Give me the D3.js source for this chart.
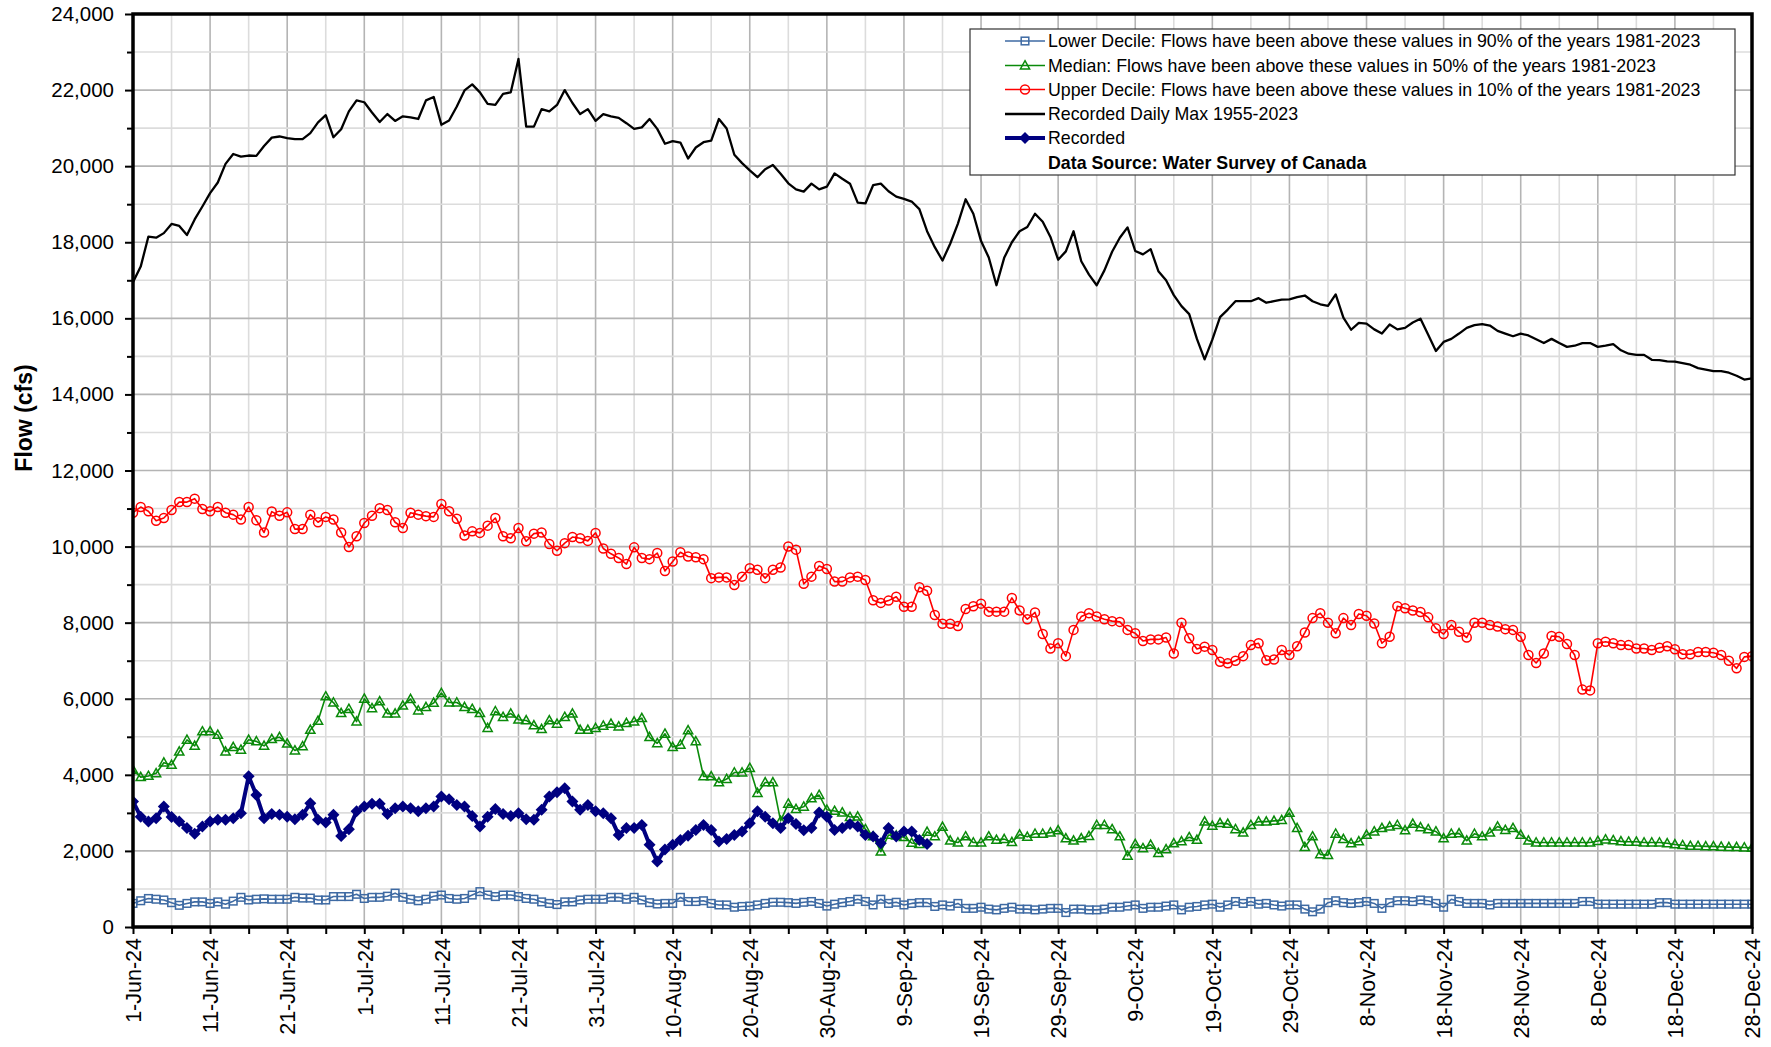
<!DOCTYPE html>
<html>
<head>
<meta charset="utf-8">
<script src="https://cdn.jsdelivr.net/npm/d3@7"></script>
<style>
  html, body { margin: 0; padding: 0; background: #fff; }
  svg { display: block; }
  text { font-family: Arial, "Liberation Sans", sans-serif; }
</style>
</head>
<body>
<svg id="chart" width="1771" height="1047"></svg>
<script>
// ---------------- DATA ----------------
const startDay = "2024-06-01";
const endDay = "2024-12-28";

const xTickLabels = ["1-Jun-24","11-Jun-24","21-Jun-24","1-Jul-24","11-Jul-24","21-Jul-24","31-Jul-24",
  "10-Aug-24","20-Aug-24","30-Aug-24","9-Sep-24","19-Sep-24","29-Sep-24","9-Oct-24","19-Oct-24",
  "29-Oct-24","8-Nov-24","18-Nov-24","28-Nov-24","8-Dec-24","18-Dec-24","28-Dec-24"];

const yTickValues = [0,2000,4000,6000,8000,10000,12000,14000,16000,18000,20000,22000,24000];

const legendLabels = [
  "Lower Decile: Flows have been above these values in 90% of the years 1981-2023",
  "Median: Flows have been above these values in 50% of the years 1981-2023",
  "Upper Decile: Flows have been above these values in 10% of the years 1981-2023",
  "Recorded Daily Max 1955-2023",
  "Recorded"
];
const sourceNote = "Data Source: Water Survey of Canada";
const yTitle = "Flow (cfs)";

// Lower decile (daily, 1-Jun .. 28-Dec)
const lowerDecile = [
  620,690,750,730,710,640,570,620,660,660, 620,660,600,680,780,710,730,740,730,730,
  730,780,760,760,710,710,800,800,800,860, 750,780,780,810,890,780,730,690,730,810,
  840,750,730,750,840,930,840,800,840,840, 800,750,730,660,620,590,660,660,710,730,
  730,730,780,780,730,780,710,640,605,620, 620,780,670,670,690,620,580,580,520,540,
  550,580,620,650,650,640,620,650,670,620, 550,600,640,670,730,670,580,730,620,650,
  580,620,640,640,540,580,550,620,490,490, 520,470,450,490,520,470,470,450,470,490,
  490,380,470,470,450,450,470,520,520,550, 580,490,520,520,550,580,450,520,540,580,
  600,520,580,670,620,670,600,620,580,550, 580,580,470,400,470,640,690,640,620,640,
  670,620,490,640,690,690,670,710,690,620, 520,730,670,620,620,620,580,620,620,620,
  620,620,620,620,620,620,620,620,670,670, 600,600,600,600,600,600,600,600,640,640,
  600,600,600,600,600,600,600,600,600,600, 600
];

// Median
const median = [
  4130,3940,3970,4040,4320,4260,4610,4920,4760,5140, 5140,5050,4610,4730,4660,4920,4880,4760,4940,4990,
  4820,4640,4750,5180,5420,6060,5900,5620,5730,5400, 6000,5750,5930,5610,5610,5820,5990,5690,5780,5890,
  6150,5900,5900,5780,5730,5620,5230,5670,5520,5610, 5450,5430,5300,5200,5430,5340,5520,5610,5180,5180,
  5230,5290,5340,5270,5360,5400,5490,4990,4830,5080, 4730,4790,5170,4880,3960,3960,3800,3890,4060,4060,
  4180,3520,3800,3800,2790,3240,3100,3160,3380,3470, 3080,3050,3010,2890,2900,2570,2380,1980,2420,2400,
  2360,2210,2180,2500,2380,2630,2270,2220,2380,2220, 2220,2380,2290,2310,2230,2430,2370,2450,2450,2480,
  2540,2330,2270,2330,2390,2680,2680,2570,2380,1870, 2180,2070,2160,1940,2040,2200,2250,2360,2290,2770,
  2660,2730,2710,2570,2480,2680,2770,2770,2790,2810, 3000,2600,2100,2380,1910,1890,2450,2310,2200,2250,
  2420,2510,2600,2640,2680,2540,2710,2620,2570,2510, 2330,2450,2460,2270,2450,2380,2480,2640,2550,2600,
  2420,2270,2220,2220,2220,2220,2220,2220,2220,2220, 2260,2300,2280,2250,2240,2240,2220,2220,2220,2200,
  2170,2150,2130,2130,2120,2120,2110,2100,2100,2090, 2080
];

// Upper decile
const upperDecile = [
  10890,11040,10930,10680,10750,10960,11170,11170,11260,10990, 10930,11040,10890,10840,10710,11040,10690,10370,10920,10810,
  10900,10460,10460,10840,10640,10780,10710,10370,9990,10270, 10620,10810,11010,10960,10640,10490,10890,10840,10800,10780,
  11120,10930,10730,10290,10400,10360,10550,10750,10270,10220, 10490,10140,10340,10370,10070,9890,10090,10250,10220,10150,
  10360,9950,9810,9700,9540,9980,9700,9670,9830,9360, 9610,9850,9740,9720,9670,9170,9190,9190,8990,9210,
  9430,9390,9170,9390,9450,10000,9920,9020,9210,9490, 9410,9080,9080,9190,9210,9120,8590,8520,8580,8680,
  8420,8420,8930,8840,8200,7970,7970,7910,8360,8430, 8500,8290,8290,8290,8650,8320,8090,8270,7700,7320,
  7460,7120,7810,8160,8250,8160,8090,8040,8020,7810, 7720,7520,7560,7560,7610,7190,8000,7590,7310,7370,
  7280,6970,6930,7000,7120,7410,7460,7010,7030,7280, 7150,7380,7740,8120,8250,8000,7720,8120,7940,8230,
  8180,7980,7460,7630,8430,8380,8320,8280,8140,7850, 7700,7940,7760,7610,8000,8000,7940,7900,7830,7810,
  7630,7150,6940,7190,7650,7630,7440,7150,6240,6220, 7460,7500,7460,7410,7410,7320,7320,7280,7340,7380,
  7300,7170,7170,7230,7230,7210,7150,7000,6800,7100, 7120
];

// Recorded daily max 1955-2023
const dailyMax = [
  16950,17360,18150,18120,18240,18480,18430,18190,18600,18940, 19290,19570,20060,20320,20250,20280,20270,20530,20750,20780,
  20740,20710,20710,20870,21150,21340,20760,20970,21440,21730, 21680,21410,21160,21370,21190,21310,21280,21240,21730,21820,
  21090,21200,21570,21990,22150,21940,21640,21610,21900,21940, 22820,21040,21040,21500,21440,21610,22000,21660,21370,21500,
  21190,21370,21310,21270,21130,20980,21020,21240,20980,20590, 20660,20620,20200,20490,20630,20670,21240,20990,20300,20080,
  19890,19710,19920,20030,19800,19550,19390,19330,19540,19390, 19460,19810,19670,19540,19040,19020,19500,19540,19340,19200,
  19140,19070,18870,18290,17870,17520,17960,18490,19130,18750, 18030,17600,16870,17590,18000,18290,18400,18750,18540,18140,
  17540,17760,18290,17500,17150,16870,17260,17750,18120,18390, 17770,17680,17820,17240,17000,16610,16320,16110,15460,14920,
  15440,16030,16230,16450,16450,16450,16530,16410,16450,16490, 16500,16560,16600,16450,16370,16330,16630,16020,15700,15880,
  15860,15710,15600,15840,15710,15750,15890,15990,15570,15140, 15380,15460,15600,15750,15820,15850,15810,15670,15600,15530,
  15600,15550,15450,15350,15460,15350,15250,15280,15350,15350, 15250,15280,15320,15160,15070,15040,15040,14910,14900,14870,
  14860,14820,14780,14690,14650,14610,14610,14570,14490,14390, 14420
];

// Recorded 2024 (1-Jun .. 13-Sep)
const recorded = [
  3300,2900,2770,2860,3170,2890,2770,2600,2450,2640, 2770,2820,2820,2860,2990,3960,3470,2860,2970,2950,
  2900,2830,2950,3250,2820,2750,2950,2390,2570,3040, 3170,3240,3240,2970,3120,3170,3120,3040,3120,3170,
  3430,3360,3210,3170,2920,2640,2900,3100,2970,2920, 2990,2830,2820,3080,3430,3540,3650,3300,3080,3210,
  3040,2990,2860,2420,2600,2600,2680,2160,1720,2040, 2160,2290,2400,2550,2680,2550,2250,2310,2420,2510,
  2730,3040,2900,2730,2600,2860,2710,2540,2600,3010, 2900,2550,2600,2710,2640,2420,2380,2200,2600,2380,
  2510,2510,2290,2180
];

// ---------------- CHART ----------------
const W = 1771, H = 1047;
const plot = { left: 133, right: 1752, top: 14, bottom: 927 };
const FONT = "Arial, 'Liberation Sans', sans-serif";

const parse = d3.utcParse("%Y-%m-%d");
const dates = d3.utcDay.range(parse(startDay), d3.utcDay.offset(parse(endDay), 1));

const svg = d3.select("#chart");
svg.append("rect").attr("width", W).attr("height", H).attr("fill", "#fff");

const x = d3.scaleUtc().domain([dates[0], dates[dates.length - 1]]).range([plot.left, plot.right]);
const y = d3.scaleLinear().domain([0, 24000]).range([plot.bottom, plot.top]);

// gridlines
const grid = svg.append("g");
const fiveDay = dates.filter((d, i) => i % 5 === 0);
grid.selectAll("line.v").data(fiveDay.filter((d, i) => i > 0)).join("line")
  .attr("x1", d => x(d)).attr("x2", d => x(d))
  .attr("y1", plot.top).attr("y2", plot.bottom)
  .attr("stroke", (d, i) => ((i + 1) % 2 === 0 ? "#b4b4b4" : "#dcdcdc"))
  .attr("stroke-width", 1.6);
const hVals = d3.range(1000, 24000, 1000);
grid.selectAll("line.h").data(hVals).join("line")
  .attr("x1", plot.left).attr("x2", plot.right)
  .attr("y1", d => y(d)).attr("y2", d => y(d))
  .attr("stroke", d => (d % 2000 === 0 ? "#b4b4b4" : "#dcdcdc"))
  .attr("stroke-width", 1.6);

// axes
const yAxis = svg.append("g").attr("transform", `translate(${plot.left},0)`)
  .call(d3.axisLeft(y).tickValues(yTickValues).tickSize(8).tickPadding(11).tickFormat(d3.format(",")));
const yMinor = svg.append("g").attr("transform", `translate(${plot.left},0)`)
  .call(d3.axisLeft(y).tickValues(d3.range(1000, 24000, 2000)).tickSize(6).tickFormat(""));
[yAxis, yMinor].forEach(g => {
  g.select(".domain").remove();
  g.selectAll(".tick line").attr("stroke", "#000").attr("stroke-width", 2);
});
yAxis.selectAll(".tick text").attr("font-family", FONT).attr("font-size", 20.5).attr("fill", "#000");

const labelMap = new Map(xTickLabels.map((l, i) => [i * 10, l]));
const xAxis = svg.append("g").attr("transform", `translate(0,${plot.bottom})`)
  .call(d3.axisBottom(x).tickValues(fiveDay).tickSize(7)
    .tickFormat((d, i) => labelMap.get(i * 5) || ""));
xAxis.select(".domain").remove();
xAxis.selectAll(".tick line").attr("stroke", "#000").attr("stroke-width", 2);
xAxis.selectAll(".tick text")
  .attr("font-family", FONT).attr("font-size", 21.5).attr("fill", "#000")
  .attr("transform", "rotate(-90)")
  .attr("x", -11).attr("y", 0).attr("dy", "0.36em")
  .style("text-anchor", "end");

// y title
svg.append("text")
  .attr("transform", `translate(32,418) rotate(-90)`)
  .attr("text-anchor", "middle")
  .attr("font-family", FONT).attr("font-weight", "bold").attr("font-size", 23)
  .text(yTitle);

// series
const clipId = "plotclip";
svg.append("clipPath").attr("id", clipId).append("rect")
  .attr("x", plot.left).attr("y", plot.top)
  .attr("width", plot.right - plot.left).attr("height", plot.bottom - plot.top);

const series = [
  { key: "lower", values: lowerDecile, color: "#3e6aa3", width: 1.6, marker: "square" },
  { key: "median", values: median, color: "#0a8a0a", width: 1.6, marker: "triangle" },
  { key: "upper", values: upperDecile, color: "#ff0000", width: 1.6, marker: "circle" },
  { key: "max", values: dailyMax, color: "#000000", width: 2.3, marker: null },
  { key: "rec", values: recorded, color: "#000080", width: 4, marker: "diamond" }
];

function drawMarker(g, type, color, cx, cy) {
  if (type === "square") {
    g.append("rect").attr("x", cx - 3.8).attr("y", cy - 3.8).attr("width", 7.6).attr("height", 7.6)
      .attr("fill", "none").attr("stroke", color).attr("stroke-width", 1.5);
  } else if (type === "triangle") {
    g.append("path").attr("d", `M${cx},${cy - 4.8}L${cx + 4.6},${cy + 3.4}L${cx - 4.6},${cy + 3.4}Z`)
      .attr("fill", "none").attr("stroke", color).attr("stroke-width", 1.5);
  } else if (type === "circle") {
    g.append("circle").attr("cx", cx).attr("cy", cy).attr("r", 4.5)
      .attr("fill", "none").attr("stroke", color).attr("stroke-width", 1.5);
  } else if (type === "diamond") {
    g.append("path").attr("d", `M${cx},${cy - 6}L${cx + 6},${cy}L${cx},${cy + 6}L${cx - 6},${cy}Z`)
      .attr("fill", color);
  }
}

const plotG = svg.append("g").attr("clip-path", `url(#${clipId})`);
series.forEach(s => {
  const pts = s.values.map((v, i) => [dates[i], v]);
  const line = d3.line().x(d => x(d[0])).y(d => y(d[1]));
  plotG.append("path").datum(pts).attr("d", line)
    .attr("fill", "none").attr("stroke", s.color).attr("stroke-width", s.width)
    .attr("stroke-linejoin", "round");
  if (s.marker) {
    const mg = plotG.append("g");
    pts.forEach(p => drawMarker(mg, s.marker, s.color, x(p[0]), y(p[1])));
  }
});

// frame
svg.append("rect")
  .attr("x", plot.left).attr("y", plot.top)
  .attr("width", plot.right - plot.left).attr("height", plot.bottom - plot.top)
  .attr("fill", "none").attr("stroke", "#000").attr("stroke-width", 3.5);

// legend
const lg = svg.append("g");
lg.append("rect").attr("x", 970).attr("y", 29).attr("width", 765).attr("height", 146)
  .attr("fill", "#fff").attr("stroke", "#333").attr("stroke-width", 1.2);
const rowY = [41, 65.5, 89.5, 114, 138, 162.5];
series.forEach((s, i) => {
  const cy = rowY[i];
  lg.append("line").attr("x1", 1005).attr("x2", 1045).attr("y1", cy).attr("y2", cy)
    .attr("stroke", s.color).attr("stroke-width", s.width);
  if (s.marker) drawMarker(lg, s.marker, s.color, 1025, cy);
  lg.append("text").attr("x", 1048).attr("y", cy).attr("dy", "0.35em")
    .attr("font-family", FONT).attr("font-size", 17.8).text(legendLabels[i]);
});
lg.append("text").attr("x", 1048).attr("y", rowY[5]).attr("dy", "0.35em")
  .attr("font-family", FONT).attr("font-size", 17.8).attr("font-weight", "bold").text(sourceNote);
</script>
</body>
</html>
